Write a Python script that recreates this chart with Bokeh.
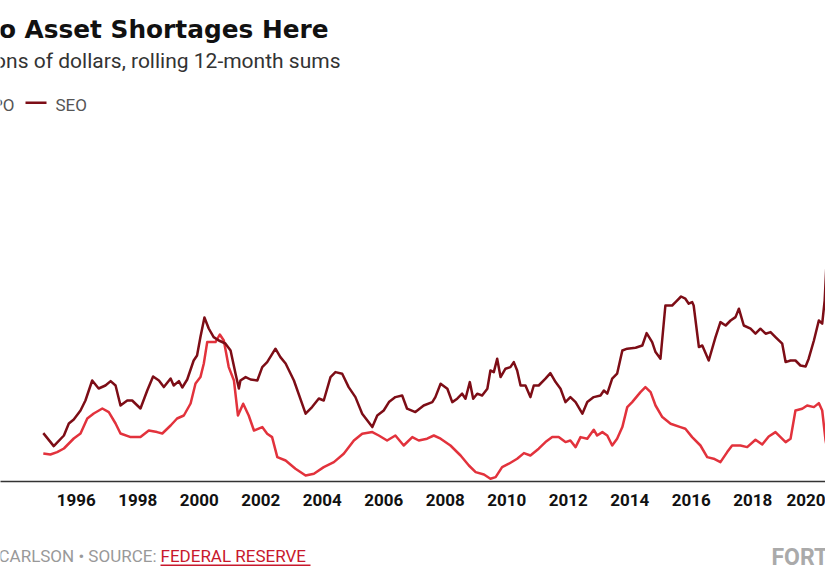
from bokeh.plotting import figure
from bokeh.models import Range1d, FixedTicker, Label, BoxAnnotation
from bokeh.layouts import column
from bokeh.embed import file_html
from bokeh.resources import INLINE

# Rolling 12-month proceeds, billions of dollars (decimal year, value)
seo_year = [1994.93, 1995.27, 1995.60, 1995.76, 1995.92, 1996.14, 1996.30, 1996.52, 1996.73, 1996.95,
            1997.12, 1997.28, 1997.44, 1997.66, 1997.82, 1998.09, 1998.31, 1998.50, 1998.69, 1998.85,
            1999.07, 1999.17, 1999.34, 1999.45, 1999.61, 1999.82, 1999.93, 2000.04, 2000.17, 2000.31,
            2000.47, 2000.64, 2000.85, 2001.02, 2001.18, 2001.29, 2001.34, 2001.51, 2001.67, 2001.89,
            2002.05, 2002.21, 2002.48, 2002.64, 2002.81, 2003.08, 2003.46, 2003.67, 2003.89, 2004.05,
            2004.27, 2004.43, 2004.65, 2004.86, 2005.08, 2005.30, 2005.63, 2005.79, 2006.00, 2006.17,
            2006.38, 2006.60, 2006.76, 2007.03, 2007.30, 2007.58, 2007.68, 2007.85, 2008.07, 2008.23,
            2008.39, 2008.55, 2008.66, 2008.80, 2008.91, 2009.04, 2009.20, 2009.37, 2009.47, 2009.58,
            2009.69, 2009.80, 2009.96, 2010.12, 2010.23, 2010.34, 2010.45, 2010.61, 2010.77, 2010.88,
            2011.04, 2011.26, 2011.42, 2011.59, 2011.75, 2011.91, 2012.07, 2012.24, 2012.46, 2012.62,
            2012.83, 2013.05, 2013.16, 2013.27, 2013.43, 2013.59, 2013.76, 2013.92, 2014.19, 2014.41,
            2014.55, 2014.73, 2014.84, 2015.00, 2015.16, 2015.38, 2015.49, 2015.67, 2015.81, 2015.92,
            2016.03, 2016.08, 2016.25, 2016.36, 2016.57, 2016.79, 2016.95, 2017.12, 2017.28, 2017.44,
            2017.55, 2017.71, 2017.93, 2018.09, 2018.25, 2018.42, 2018.58, 2018.74, 2018.96, 2019.07,
            2019.23, 2019.39, 2019.55, 2019.72, 2019.82, 2019.99, 2020.15, 2020.26, 2020.34, 2020.40,
            2020.50]
seo_bn = [24.2, 17.7, 23.0, 29.0, 31.0, 35.5, 40.5, 50.5, 46.5, 48.0,
          50.2, 48.0, 38.0, 40.5, 40.5, 36.5, 45.5, 52.5, 50.5, 47.2,
          51.5, 48.0, 50.2, 47.0, 51.0, 60.5, 63.0, 72.2, 82.0, 76.5,
          72.2, 70.5, 69.0, 65.5, 54.0, 46.5, 50.5, 52.2, 51.0, 50.5,
          57.2, 59.7, 66.4, 62.2, 59.0, 50.5, 33.9, 37.2, 41.5, 40.5,
          52.2, 54.7, 53.9, 47.2, 42.2, 33.9, 27.2, 33.0, 35.5, 39.7,
          42.2, 43.0, 36.4, 34.7, 38.0, 39.7, 42.2, 48.9, 46.4, 39.7,
          41.4, 43.9, 41.4, 49.7, 41.4, 43.9, 43.0, 46.4, 55.5, 54.7,
          61.4, 52.2, 56.4, 57.2, 59.7, 55.5, 48.0, 48.0, 42.2, 48.0,
          48.0, 51.4, 54.2, 49.7, 46.4, 39.7, 42.2, 39.7, 33.9, 39.7,
          42.2, 43.0, 45.5, 43.9, 51.4, 53.9, 65.5, 66.4, 66.9, 68.0,
          74.2, 69.7, 64.7, 61.4, 88.0, 88.0, 89.7, 92.5, 91.4, 88.9,
          89.7, 88.0, 67.2, 68.0, 60.5, 72.2, 79.7, 78.0, 80.5, 82.2,
          86.4, 78.0, 76.4, 73.9, 76.4, 73.9, 74.7, 72.2, 68.9, 59.7,
          60.5, 60.5, 58.0, 57.5, 61.4, 70.5, 80.5, 78.9, 90.5, 109.5,
          135.0]

ipo_year = [1994.93, 1995.16, 1995.38, 1995.60, 1995.92, 1996.14, 1996.36, 1996.57, 1996.85, 1997.06,
            1997.28, 1997.44, 1997.77, 1998.09, 1998.36, 1998.63, 1998.80, 1999.07, 1999.28, 1999.50,
            1999.72, 1999.88, 2000.04, 2000.15, 2000.26, 2000.53, 2000.67, 2000.80, 2000.96, 2001.13,
            2001.26, 2001.43, 2001.61, 2001.78, 2002.05, 2002.21, 2002.37, 2002.54, 2002.81, 2003.13,
            2003.46, 2003.73, 2004.05, 2004.38, 2004.70, 2005.03, 2005.30, 2005.63, 2005.84, 2006.11,
            2006.38, 2006.65, 2006.93, 2007.14, 2007.41, 2007.63, 2007.85, 2008.17, 2008.50, 2008.77,
            2008.99, 2009.26, 2009.47, 2009.64, 2009.85, 2010.07, 2010.34, 2010.56, 2010.77, 2011.04,
            2011.26, 2011.48, 2011.69, 2011.91, 2012.07, 2012.24, 2012.40, 2012.62, 2012.83, 2012.94,
            2013.11, 2013.27, 2013.43, 2013.59, 2013.76, 2013.92, 2014.08, 2014.35, 2014.51, 2014.68,
            2014.84, 2015.06, 2015.33, 2015.65, 2015.81, 2016.03, 2016.30, 2016.52, 2016.73, 2016.95,
            2017.17, 2017.33, 2017.60, 2017.82, 2018.09, 2018.31, 2018.52, 2018.74, 2019.07, 2019.23,
            2019.39, 2019.61, 2019.77, 2019.99, 2020.15, 2020.26, 2020.37, 2020.45]
ipo_bn = [14.0, 13.5, 14.7, 16.5, 21.5, 24.0, 31.5, 34.0, 36.5, 34.7,
          29.0, 24.0, 22.2, 22.2, 25.5, 24.7, 24.0, 28.0, 31.5, 33.0,
          39.0, 49.0, 52.2, 59.0, 69.7, 69.7, 73.5, 70.5, 57.2, 50.5,
          33.0, 38.9, 33.0, 25.5, 27.2, 23.9, 22.2, 12.2, 10.5, 6.4,
          3.0, 3.9, 7.2, 9.7, 13.9, 20.5, 23.9, 24.7, 23.0, 20.5,
          23.0, 18.0, 22.2, 20.5, 21.4, 23.0, 21.4, 18.0, 13.0, 8.0,
          4.7, 3.5, 1.4, 2.2, 7.2, 8.9, 11.4, 14.2, 13.0, 16.4,
          19.7, 22.2, 22.2, 19.7, 20.5, 17.2, 22.2, 21.4, 25.9, 23.0,
          24.7, 23.0, 18.0, 21.4, 27.2, 37.2, 39.7, 44.7, 47.2, 44.7,
          38.0, 32.2, 28.9, 27.2, 26.4, 22.2, 18.0, 12.2, 11.4, 9.7,
          14.7, 18.0, 18.0, 17.2, 20.9, 18.5, 22.5, 24.7, 19.7, 21.4,
          35.5, 36.4, 38.0, 37.2, 39.2, 35.5, 20.5, 14.0]

tick_years = [1996, 1998, 2000, 2002, 2004, 2006, 2008, 2010, 2012, 2014, 2016, 2018, 2020]

TITLE = "There Are No Asset Shortages Here"
SUBTITLE = "In billions of dollars, rolling 12-month sums"
CREDIT = "CHART: BEN CARLSON \u2022 SOURCE:"
SOURCE = "FEDERAL RESERVE"

SEO_COLOR = "#7d0d16"
IPO_COLOR = "#e2323c"
SANS = "Roboto"

W = 825
CHART_H = 520       # headline + plot + year axis
FOOT_H = 55         # credit line
BOTTOM = 481        # baseline of the plot on the chart canvas

p = figure(width=W, height=CHART_H, output_backend="svg", toolbar_location=None,
           x_range=Range1d(1993.538, 2020.367), y_range=Range1d(0, 240.5),
           y_axis_location=None, min_border_left=0, min_border_right=0,
           min_border_top=0, min_border_bottom=CHART_H - BOTTOM)
p.outline_line_color = None
p.grid.visible = False
p.background_fill_color = "white"
p.border_fill_color = "white"

p.line(ipo_year, ipo_bn, line_color=IPO_COLOR, line_width=2.5, line_join="round")
p.line(seo_year, seo_bn, line_color=SEO_COLOR, line_width=2.5, line_join="round")

ax = p.xaxis[0]
ax.ticker = FixedTicker(ticks=tick_years)
ax.axis_line_color = "#333333"
ax.axis_line_width = 1.5
ax.major_tick_line_color = None
ax.minor_tick_line_color = None
ax.major_label_standoff = 6
ax.major_label_text_font = SANS
ax.major_label_text_font_style = "bold"
ax.major_label_text_font_size = "17px"
ax.major_label_text_color = "#111111"


def add_text(fig, frame_bottom, text, x, cy, size, color, font, style="normal", align="left"):
    # cy is the wanted baseline on the canvas; the svg text sits ~0.37em low, so lift it
    lift = 0.37 * size
    fig.add_layout(Label(x=x, y=frame_bottom - cy + lift, x_units="screen", y_units="screen",
                         text=text, text_font=font, text_font_size=f"{size}px",
                         text_font_style=style, text_color=color, text_align=align,
                         text_baseline="alphabetic"))


def add_rule(fig, frame_bottom, x0, x1, cy0, cy1, color):
    fig.add_layout(BoxAnnotation(left=x0, right=x1, bottom=frame_bottom - cy1, top=frame_bottom - cy0,
                                 left_units="screen", right_units="screen",
                                 top_units="screen", bottom_units="screen",
                                 fill_color=color, fill_alpha=1.0, line_color=None))


# headline, subtitle
add_text(p, BOTTOM, TITLE, 328, 38, 24.8, "#111111", "DejaVu Sans", "bold", "right")
add_text(p, BOTTOM, SUBTITLE, 340, 68, 21, "#333333", SANS, "normal", "right")

# legend
add_rule(p, BOTTOM, -30, -8, 101, 103.5, IPO_COLOR)
add_text(p, BOTTOM, "IPO", 14, 110.5, 17, "#555555", SANS, "normal", "right")
add_rule(p, BOTTOM, 25, 46, 101, 103.5, SEO_COLOR)
add_text(p, BOTTOM, "SEO", 55, 110.5, 17, "#555555", SANS)

# credit line
f = figure(width=W, height=FOOT_H, output_backend="svg", toolbar_location=None,
           x_range=Range1d(0, W), y_range=Range1d(0, FOOT_H),
           x_axis_location=None, y_axis_location=None,
           min_border_left=0, min_border_right=0, min_border_top=0, min_border_bottom=0)
f.outline_line_color = None
f.grid.visible = False
f.background_fill_color = "white"
f.border_fill_color = "white"

# footer rows on the full page start at y = CHART_H
add_text(f, FOOT_H, CREDIT, 156, 562 - CHART_H, 17, "#999999", SANS, "normal", "right")
add_text(f, FOOT_H, SOURCE, 160, 562 - CHART_H, 17, "#c8182c", SANS)
add_rule(f, FOOT_H, 160, 310, 564 - CHART_H, 565.5 - CHART_H, "#c8182c")
add_text(f, FOOT_H, "FORTUNE", 771, 566 - CHART_H, 23, "#aaaaaa", SANS, "bold")

layout = column(p, f, spacing=0)
open("out.html", "w").write(file_html(layout, INLINE))
